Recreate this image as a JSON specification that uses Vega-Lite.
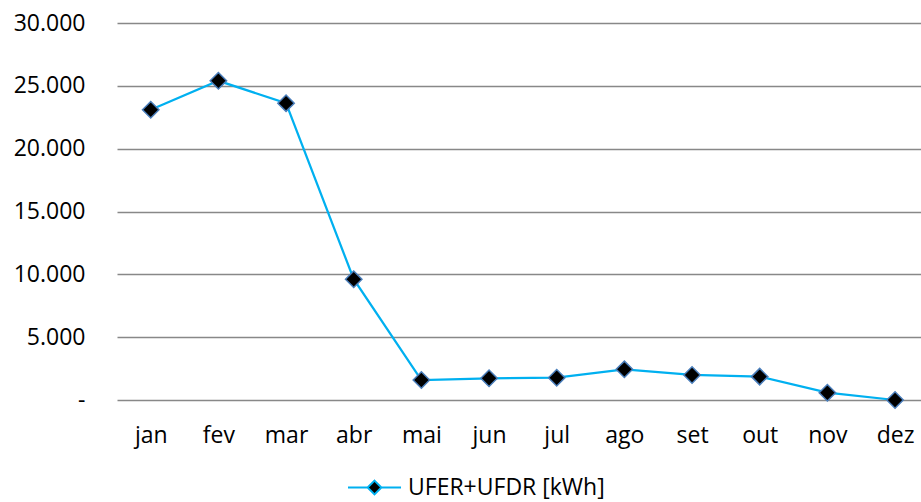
{
  "$schema": "https://vega.github.io/schema/vega-lite/v6.json",
  "width": 804,
  "height": 377,
  "autosize": {"type": "none"},
  "padding": {"left": 117, "top": 23, "right": 0, "bottom": 102},
  "background": "white",
  "config": {
    "view": {"stroke": null},
    "font": "Open Sans",
    "axis": {"labelFont": "Open Sans", "labelFontSize": 23, "labelColor": "#000000"}
  },
  "data": {
    "values": [
      {"mes": "jan", "valor": 23100, "serie": "UFER+UFDR [kWh]"},
      {"mes": "fev", "valor": 25400, "serie": "UFER+UFDR [kWh]"},
      {"mes": "mar", "valor": 23620, "serie": "UFER+UFDR [kWh]"},
      {"mes": "abr", "valor": 9610, "serie": "UFER+UFDR [kWh]"},
      {"mes": "mai", "valor": 1590, "serie": "UFER+UFDR [kWh]"},
      {"mes": "jun", "valor": 1730, "serie": "UFER+UFDR [kWh]"},
      {"mes": "jul", "valor": 1775, "serie": "UFER+UFDR [kWh]"},
      {"mes": "ago", "valor": 2440, "serie": "UFER+UFDR [kWh]"},
      {"mes": "set", "valor": 1990, "serie": "UFER+UFDR [kWh]"},
      {"mes": "out", "valor": 1860, "serie": "UFER+UFDR [kWh]"},
      {"mes": "nov", "valor": 580, "serie": "UFER+UFDR [kWh]"},
      {"mes": "dez", "valor": 0, "serie": "UFER+UFDR [kWh]"}
    ]
  },
  "encoding": {
    "x": {
      "field": "mes",
      "type": "nominal",
      "sort": null,
      "scale": {"type": "point", "padding": 0.441, "align": 0.565},
      "axis": {"title": null, "domain": false, "ticks": false, "grid": false, "labelAngle": 0, "labelPadding": 24}
    },
    "y": {
      "field": "valor",
      "type": "quantitative",
      "scale": {"domain": [0, 30000], "nice": false, "zero": true},
      "axis": {
        "title": null,
        "domain": false,
        "ticks": false,
        "tickSize": 0,
        "values": [0, 5000, 10000, 15000, 20000, 25000, 30000],
        "grid": true,
        "gridColor": "#888888",
        "gridWidth": 1.5,
        "labelPadding": 32,
        "labelExpr": "datum.value == 0 ? '-\u00a0\u00a0' : replace(format(datum.value, ',.0f'), ',', '.')"
      }
    }
  },
  "layer": [
    {
      "mark": {"type": "line", "strokeWidth": 2.25, "color": "#00b0f0"},
      "encoding": {
        "color": {
          "field": "serie",
          "type": "nominal",
          "scale": {"range": ["#00b0f0"]},
          "legend": {
            "title": null,
            "orient": "none",
            "legendX": 230,
            "legendY": 437,
            "padding": 0,
            "labelFont": "Open Sans",
            "labelFontSize": 23,
            "labelLimit": 0,
            "labelColor": "#000000",
            "labelOffset": 6,
            "symbolType": "M-1,0L-0.26,0M0.26,0L1,0M0,-0.26L0.26,0L0,0.26L-0.26,0Z",
            "symbolSize": 2809,
            "encode": {
              "symbols": {
                "update": {
                  "fill": {"value": "#000000"},
                  "stroke": {"value": "#00b0f0"},
                  "strokeWidth": {"value": 2},
                  "opacity": {"value": 1}
                }
              }
            }
          }
        }
      }
    },
    {
      "mark": {"type": "point", "shape": "diamond", "filled": true, "fill": "#000000", "stroke": "#4a7ebb", "strokeWidth": 1.5, "size": 270, "opacity": 1}
    }
  ]
}
